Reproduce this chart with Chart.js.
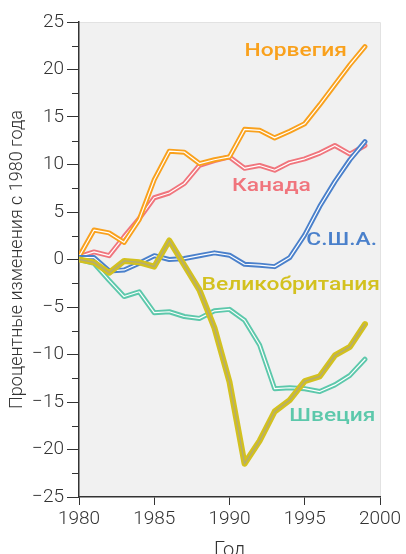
<!DOCTYPE html>
<html>
<head>
<meta charset="utf-8">
<script src="https://cdn.jsdelivr.net/npm/chart.js@4.4.1/dist/chart.umd.min.js"></script>
<style>
  html, body { margin: 0; padding: 0; background: #fff; }
  #wrap { width: 406px; height: 554px; }
</style>
</head>
<body>
<div id="wrap"><canvas id="chart"></canvas></div>
<script>
// Years on the x axis and percent change since 1980 per country
const years = [1980, 1981, 1982, 1983, 1984, 1985, 1986, 1987, 1988, 1989,
               1990, 1991, 1992, 1993, 1994, 1995, 1996, 1997, 1998, 1999];
const norway = [0.3, 3.1, 2.8, 1.8, 4.2, 8.4, 11.4, 11.3, 10.1, 10.5,
                10.8, 13.7, 13.6, 12.8, 13.5, 14.3, 16.3, 18.4, 20.5, 22.4];
const canada = [0.3, 0.8, 0.4, 2.4, 4.3, 6.5, 7.0, 8.0, 9.9, 10.4,
                10.8, 9.6, 9.9, 9.4, 10.2, 10.6, 11.2, 12.0, 11.1, 12.0];
const usa = [0.2, 0.2, -1.2, -1.1, -0.4, 0.4, 0.0, 0.1, 0.4, 0.7,
             0.45, -0.5, -0.6, -0.75, 0.2, 2.6, 5.6, 8.2, 10.5, 12.4];
const uk = [0, -0.3, -1.4, -0.15, -0.3, -0.75, 2.0, -0.6, -3.2, -7.2,
            -12.9, -21.5, -19.1, -16.0, -14.8, -12.8, -12.3, -10.1, -9.2, -6.8];
const sweden = [0, -0.4, -2.2, -3.9, -3.4, -5.6, -5.5, -6.0, -6.2, -5.4,
                -5.25, -6.4, -9.0, -13.6, -13.5, -13.6, -13.9, -13.2, -12.2, -10.5];

const seriesNames = ['Норвегия', 'Канада', 'С.Ш.А.', 'Великобритания', 'Швеция'];

// direct labels: right edge at (year, value)
const labelYears = [1997.8, 1995.4, 1999.8, 2000, 1999.7];
const labelValues = [21.9, 7.7, 2.0, -2.7, -16.5];

const COLORS = ['#f9a11d', '#f0757d', '#4a80cb', '#d3c11f', '#5cc8ab'];
const FONT = 'Roboto, "Noto Sans", "DejaVu Sans", sans-serif';

const toPoints = vals => vals.map((v, i) => ({ x: years[i], y: v }));

function pairOf(vals, color, order, wide) {
  const outer = {
    data: toPoints(vals),
    borderColor: color,
    borderWidth: wide ? 6 : 5,
    pointRadius: 0,
    tension: 0,
    borderJoinStyle: 'round',
    borderCapStyle: 'round',
    order: order + 1
  };
  const core = {
    data: toPoints(vals),
    borderColor: wide ? 'rgba(170,165,140,0.85)' : '#ffffff',
    borderWidth: wide ? 1.3 : 1.2,
    pointRadius: 0,
    tension: 0,
    borderJoinStyle: 'round',
    borderCapStyle: 'round',
    order: order
  };
  return [outer, core];
}

const datasets = [
  ...pairOf(uk, COLORS[3], 0, true),
  ...pairOf(sweden, COLORS[4], 2, false),
  ...pairOf(usa, COLORS[2], 4, false),
  ...pairOf(norway, COLORS[0], 6, false),
  ...pairOf(canada, COLORS[1], 8, false)
];

const plotBackground = {
  id: 'plotBackground',
  beforeDraw(chart) {
    const { ctx, chartArea: a } = chart;
    ctx.save();
    ctx.fillStyle = '#f1f1f1';
    ctx.fillRect(a.left, a.top, a.right - a.left, a.bottom - a.top);
    ctx.strokeStyle = '#e2e2e2';
    ctx.lineWidth = 1;
    ctx.beginPath();
    ctx.moveTo(a.left, a.top + 0.5);
    ctx.lineTo(a.right + 0.5, a.top + 0.5);
    ctx.lineTo(a.right + 0.5, a.bottom);
    ctx.stroke();
    ctx.restore();
  }
};

// short minor ticks between the labelled ones
const minorTicks = {
  id: 'minorTicks',
  afterDraw(chart) {
    const { ctx, scales: { y }, chartArea: a } = chart;
    ctx.save();
    ctx.strokeStyle = '#333';
    ctx.lineWidth = 1;
    y.ticks.forEach(t => {
      if (Math.abs(t.value % 5) < 1e-6) return;
      const py = Math.round(y.getPixelForValue(t.value)) + 0.5;
      ctx.beginPath();
      ctx.moveTo(a.left - 7, py);
      ctx.lineTo(a.left, py);
      ctx.stroke();
    });
    ctx.restore();
  }
};

const seriesLabels = {
  id: 'seriesLabels',
  afterDatasetsDraw(chart) {
    const { ctx, scales: { x, y } } = chart;
    ctx.save();
    ctx.font = '500 19px ' + FONT;
    ctx.textAlign = 'right';
    ctx.textBaseline = 'middle';
    const stretch = 1.2;
    seriesNames.forEach((name, i) => {
      const px = x.getPixelForValue(labelYears[i]);
      const py = y.getPixelForValue(labelValues[i]);
      ctx.save();
      ctx.translate(px, py);
      ctx.scale(stretch, 1);
      ctx.fillStyle = COLORS[i];
      ctx.fillText(name, 0, 0);
      ctx.restore();
    });
    ctx.restore();
  }
};

new Chart(document.getElementById('chart'), {
  type: 'line',
  data: { datasets },
  options: {
    responsive: true,
    maintainAspectRatio: false,
    animation: false,
    devicePixelRatio: 1,
    layout: { padding: { top: 22, right: 26, left: 0, bottom: 0 } },
    plugins: {
      legend: { display: false },
      tooltip: { enabled: false }
    },
    scales: {
      x: {
        type: 'linear',
        min: 1980,
        max: 2000,
        afterFit: s => { s.height = 57; },
        ticks: {
          stepSize: 5,
          autoSkip: false,
          maxRotation: 0,
          padding: 3,
          color: '#333',
          font: { family: FONT, size: 19, weight: '300' },
          callback: v => String(v)
        },
        grid: { drawOnChartArea: false, tickLength: 8, tickColor: '#333', tickWidth: 1 },
        border: { color: '#333', width: 1.5 },
        title: {
          display: true,
          text: 'Год',
          color: '#333',
          padding: { top: 0, bottom: -9 },
          font: { family: FONT, size: 20, weight: '300' }
        }
      },
      y: {
        min: -25,
        max: 25,
        afterFit: s => { s.width = 79; },
        ticks: {
          stepSize: 2.5,
          autoSkip: false,
          padding: 3,
          color: '#333',
          font: { family: FONT, size: 19, weight: '300' },
          callback: v => (Math.abs(v % 5) < 1e-6 ? String(v).replace('-', '\u2212') : '')
        },
        grid: {
          drawOnChartArea: false,
          tickLength: 12,
          tickWidth: 1,
          tickColor: c => (c.tick && Math.abs(c.tick.value % 5) < 1e-6 ? '#333' : 'rgba(0,0,0,0)')
        },
        border: { color: '#333', width: 1.5 },
        title: {
          display: true,
          text: 'Процентные изменения с 1980 года',
          color: '#333',
          padding: { top: 7, bottom: 0 },
          font: { family: FONT, size: 18, weight: '300' }
        }
      }
    }
  },
  plugins: [plotBackground, minorTicks, seriesLabels]
});
</script>
</body>
</html>
